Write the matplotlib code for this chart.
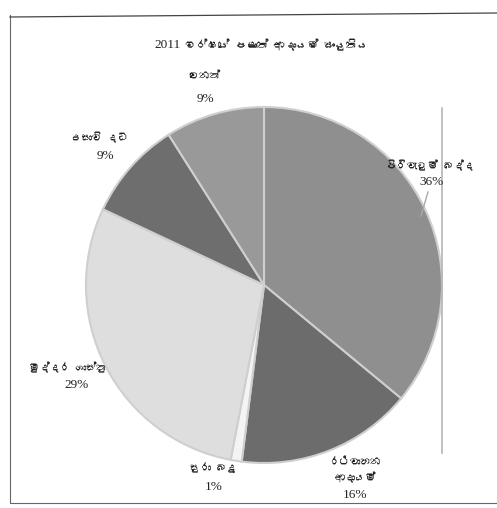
import matplotlib
matplotlib.use('Agg')
import matplotlib.pyplot as plt
from matplotlib import font_manager
from matplotlib.ft2font import FT2Font

# Data - 2011 පළාත් ආදායම් සංයුතිය
title_year = '2011'
title = 'වර්ෂයේ පළාත් ආදායම් සංයුතිය'
categories = ['පිරිවැටුම් බද්ද', 'රථවාහන\nආදායම්', 'සුරා බදු',
              'මුද්දර ගාස්තු', 'උසාවි දඩ', 'වෙනත්']
shares = [36, 16, 1, 29, 9, 9]
colors = ['#8f8f8f', '#6c6c6c', '#f4f4f4', '#dedede', '#6e6e6e', '#999999']

# Label positions in pixels of the figure (x, y from top): name, then percent
name_pos = [(430, 165), (355, 470), (213, 467), (68, 367), (100, 137), (205, 75)]
pct_pos = [(432, 182), (355, 495), (214, 487), (77, 385), (105, 156), (205, 99)]


# Find a font that has Sinhala glyphs, if one is installed
def find_sinhala_font():
    for f in font_manager.fontManager.ttflist:
        try:
            cmap = FT2Font(f.fname).get_charmap()
        except Exception:
            continue
        if 0x0DC0 in cmap and 0x0DCA in cmap:
            return f.name
    return None


sinhala = find_sinhala_font()
sin_fam = [sinhala, 'DejaVu Sans'] if sinhala else ['DejaVu Sans']
num_fam = ['Liberation Serif', 'DejaVu Serif']

W, H = 497, 508
fig = plt.figure(figsize=(W / 100, H / 100), dpi=100)
ax = fig.add_axes([0, 0, 1, 1])

cx, cy, r = 264, 285, 178
ax.pie(shares, colors=colors, startangle=90, counterclock=False,
       center=(cx, H - cy), radius=r,
       wedgeprops=dict(edgecolor='#cfcfcf', linewidth=1.5))

ax.set_xlim(0, W)
ax.set_ylim(0, H)
ax.set_aspect('equal')
ax.axis('off')

# titre : année en serif, reste en cinghalais
ax.text(181, H - 45, title_year, ha='right', va='center', fontsize=9.5,
        family=num_fam, color='#222222')
ax.text(185, H - 45, title, ha='left', va='center', fontsize=8,
        family=sin_fam, color='#222222')

for name, val, (x, y), (px, py) in zip(categories, shares, name_pos, pct_pos):
    ax.text(x, H - y, name, ha='center', va='center', fontsize=7.5,
            family=sin_fam, color='#222222', linespacing=1.6)
    ax.text(px, H - py, f'{val}%', ha='center', va='center', fontsize=9.5,
            family=num_fam, color='#222222')

# leader line for the upper right label
ax.plot([428, 421], [H - 192, H - 216], color='#aaaaaa', lw=1)

# page frame of the scan
ax.plot([10, 10, 497], [H - 15, H - 503, H - 503], color='#666666', lw=0.8)
ax.plot([10, 497], [H - 17, H - 13], color='#444444', lw=0.9)
ax.plot([442, 442], [H - 108, H - 453], color='#b5b5b5', lw=1.2)

fig.savefig('out.png', dpi=100)
